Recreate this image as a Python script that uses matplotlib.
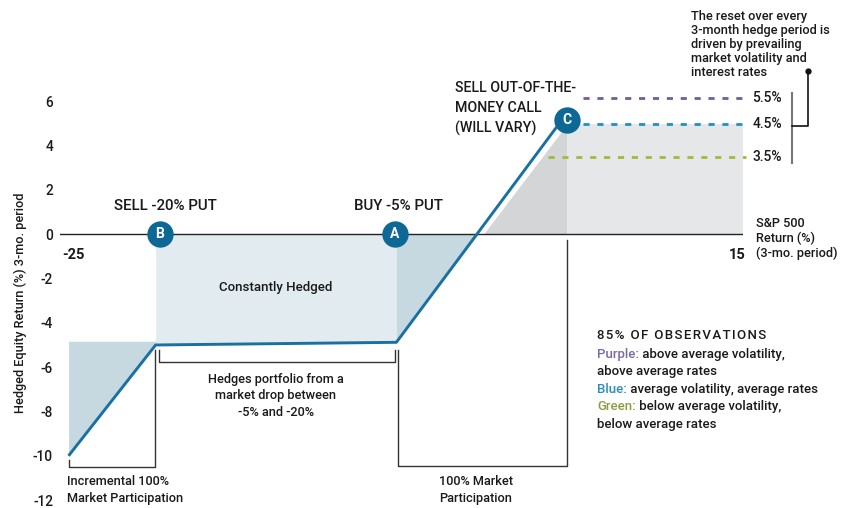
import matplotlib.pyplot as plt

plt.rcParams['font.family'] = ['Roboto', 'DejaVu Sans']
plt.rcParams['font.weight'] = 'medium'

# payoff profile (S&P 500 return vs hedged equity return, schematic)
payoff_x = [-24.5, -19.4, -5.3, 4.2]
payoff_y = [-10.0, -5.0, -4.88, 4.95]

# marker positions
marker_labels = ['B', 'A', 'C']
marker_x = [-19.14, -5.38, 4.69]
marker_y = [0.0, 0.0, 5.14]

# call strike reset levels
reset_labels = ['5.5%', '4.5%', '3.5%']
reset_y = [6.13, 4.96, 3.47]
reset_start = [5.63, 5.63, 3.58]
reset_colors = ['#6f5e9e', '#1f8fc6', '#a4b83c']

call_lines = ['SELL OUT-OF-THE-', 'MONEY CALL', '(WILL VARY)']
call_y = [6.59, 5.67, 4.79]

yticks = [6, 4, 2, 0, -2, -4, -6, -8, -10, -12]

line_c = '#1a70a0'
dot_c = '#0d6896'
txt_c = '#1a1a1a'

fig = plt.figure(figsize=(8.51, 5.08), dpi=100)
ax = fig.add_axes([60 / 851, 0.001, 683 / 851, 0.9907])
ax.set_xlim(-25, 15)
ax.set_ylim(-12.33, 10.37)
for s in ax.spines.values():
    s.set_visible(False)
ax.set_xticks([])
ax.set_yticks(yticks)
ax.set_yticklabels([str(t) for t in yticks])
ax.tick_params(axis='y', length=0, pad=5, labelsize=9.8, labelcolor=txt_c)

# shaded regions
ax.fill_between([payoff_x[0], payoff_x[1]], [payoff_y[0], payoff_y[1]], -4.83, color='#c6d9e1', lw=0)
ax.fill_between([payoff_x[1], payoff_x[2]], [payoff_y[1], payoff_y[2]], 0, color='#e2ebef', lw=0)
ax.fill_between([payoff_x[2], -0.5], [payoff_y[2], 0], 0, color='#c6d9e1', lw=0)
ax.fill_between([-0.2, marker_x[2]], [0, 4.95], 0, color='#d3d5d7', lw=0)
ax.fill_between([marker_x[2], 15], 4.95, 0, color='#e6e7e9', lw=0)

ax.axhline(0, color='#222222', lw=1)
ax.plot(payoff_x, payoff_y, color=line_c, lw=2.1, solid_capstyle='butt', zorder=3)

for lab, mx, my in zip(marker_labels, marker_x, marker_y):
    ax.scatter([mx], [my], s=360, color=dot_c, zorder=4, lw=0)
    ax.text(mx, my, lab, color='white', fontsize=10, fontweight='bold',
            ha='center', va='center', zorder=5)

for lab, y0, x0, c in zip(reset_labels, reset_y, reset_start, reset_colors):
    ax.plot([x0, 15.18], [y0, y0], color=c, lw=2, dashes=(2.2, 2.8), clip_on=False)
    ax.text(15.55, y0, lab, fontsize=10, color=txt_c, ha='left', va='center')

# brackets
bk = dict(color='#333333', lw=1, clip_on=False)
ax.plot([-24.47, -24.47, -19.44, -19.44], [-10.19, -10.51, -10.51, -5.23], **bk)
ax.plot([-19.2, -19.2, -5.38, -5.38], [-5.23, -5.77, -5.77, -5.23], **bk)
ax.plot([-5.2, -5.2, 4.69, 4.69], [-5.23, -10.46, -10.46, -0.27], **bk)
ax.plot([17.87, 17.87], [6.36, 3.2], color='#777777', lw=1.5, clip_on=False)
ax.plot([17.87, 18.8, 18.8], [4.87, 4.87, 7.35], color='#111111', lw=1.2, clip_on=False)
ax.plot([18.8], [7.35], 'o', color='#111111', ms=3.5, clip_on=False)

# text labels
ax.text(-18.85, 1.26, 'SELL -20% PUT', fontsize=10.8, color=txt_c, ha='center', va='center')
ax.text(-5.2, 1.26, 'BUY -5% PUT', fontsize=10.8, color=txt_c, ha='center', va='center')
ax.text(-12.35, -2.39, 'Constantly Hedged', fontsize=9.5, color=txt_c, ha='center', va='center')
for line, y in zip(call_lines, call_y):
    ax.text(-1.87, y, line, fontsize=10.3, color=txt_c, ha='left', va='center')
ax.text(11.96, 8.55, 'The reset over every\n3-month hedge period is\ndriven by prevailing\n'
        'market volatility and\ninterest rates', fontsize=9.2, color=txt_c,
        ha='left', va='center', linespacing=1.12)
ax.text(15.76, -0.2, 'S&P 500\nReturn (%)\n(3-mo. period)', fontsize=9.2, color=txt_c,
        ha='left', va='center', linespacing=1.2)
ax.text(15.15, -0.95, '15', fontsize=10.5, fontweight='bold', color=txt_c, ha='right', va='center')
ax.text(-24.85, -0.95, '-25', fontsize=10.5, fontweight='bold', color=txt_c, ha='left', va='center')
ax.text(-12.35, -7.3, 'Hedges portfolio from a\nmarket drop between\n-5% and -20%', fontsize=9.2,
        color=txt_c, ha='center', va='center', linespacing=1.35)
ax.text(-24.6, -11.55, 'Incremental 100%\nMarket Participation', fontsize=9.2, color=txt_c,
        ha='left', va='center', linespacing=1.35)
ax.text(-2.8, -11.55, '100% Market\nParticipation', fontsize=9.2, color=txt_c,
        ha='left', va='center', linespacing=1.35)

fig.text(20 / 851, 1 - 303 / 508, 'Hedged Equity Return (%) 3-mo. period', rotation=90,
         fontsize=9.2, color=txt_c, ha='center', va='center')

# observations legend
ax.text(6.45, -4.56, '\u200a'.join('85% OF OBSERVATIONS'), fontsize=9.5, color=txt_c,
        ha='left', va='center')
legend_rows = [
    ('Purple:', ' above average volatility,', '#7a68a8', -5.41),
    ('Blue:', ' average volatility, average rates', '#2a8cc0', -6.99),
    ('Green:', ' below average volatility,', '#8a9e40', -7.76),
]
for key, rest, c, y in legend_rows:
    t = ax.text(6.45, y, key, fontsize=9.5, color=c, ha='left', va='center')
    ax.annotate(rest, xy=(1, 0.5), xycoords=t, fontsize=9.5, color=txt_c, ha='left', va='center')
ax.text(6.45, -6.18, 'above average rates', fontsize=9.5, color=txt_c, ha='left', va='center')
ax.text(6.45, -8.57, 'below average rates', fontsize=9.5, color=txt_c, ha='left', va='center')

fig.savefig('out.png', dpi=100)
